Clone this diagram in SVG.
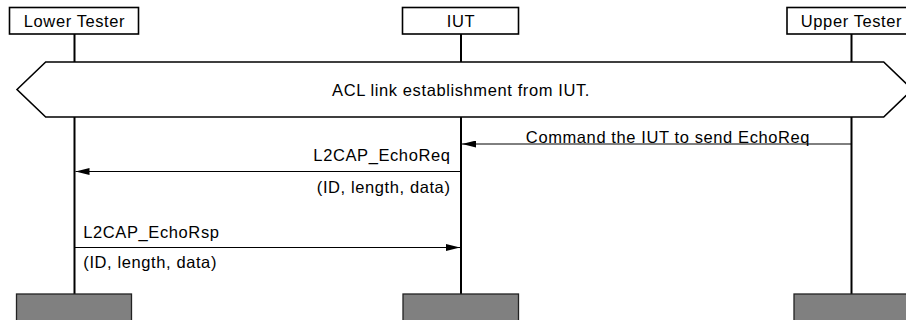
<svg xmlns="http://www.w3.org/2000/svg" width="906" height="320" viewBox="0 0 906 320">
<style>
text{font-family:"Liberation Sans",Arial,sans-serif;font-size:16.5px;letter-spacing:0.6px;fill:#000}
.hd{fill:#fff;stroke:#000;stroke-width:1.6}
.ft{fill:#808080;stroke:#222;stroke-width:1.3}
.life{stroke:#000;stroke-width:2}
.msg{stroke:#000;stroke-width:1;fill:none}
.c{text-anchor:middle}
.e{text-anchor:end}
</style>
<defs>
<marker id="ah" markerWidth="15" markerHeight="7" refX="14" refY="3.5" orient="auto" markerUnits="userSpaceOnUse">
<path d="M0,0 L14,3.5 L0,7 Z" fill="#000"/>
</marker>
</defs>
<g id="lifelines">
<line class="life" x1="74.5" y1="34" x2="74.5" y2="294"/>
<line class="life" x1="461" y1="34" x2="461" y2="294"/>
<line class="life" x1="851.5" y1="34" x2="851.5" y2="294"/>
</g>
<g id="lower-tester">
<rect class="hd" x="9.5" y="7.5" width="129" height="26.5"/>
<text class="c" x="74.5" y="26.5">Lower Tester</text>
<rect class="ft" x="16.5" y="294" width="115" height="30"/>
</g>
<g id="iut">
<rect class="hd" x="402.5" y="7.5" width="116" height="26.5"/>
<text class="c" x="461" y="26.5">IUT</text>
<rect class="ft" x="403" y="294" width="115.5" height="30"/>
</g>
<g id="upper-tester">
<rect class="hd" x="787" y="7.5" width="129" height="26.5"/>
<text class="c" x="851.5" y="26.5">Upper Tester</text>
<rect class="ft" x="794" y="294" width="115" height="30"/>
</g>
<g id="acl-link">
<polygon class="hd" points="17,89.5 45.7,62 883.7,62 912.5,89.5 883.7,117 45.7,117"/>
<text class="c" x="461" y="96">ACL link establishment from IUT.</text>
</g>
<g id="connectors">
<line class="msg" x1="851.5" y1="144" x2="462" y2="144" marker-end="url(#ah)"/>
<text class="c" x="668" y="143">Command the IUT to send EchoReq</text>
<line class="msg" x1="461" y1="171.5" x2="75.5" y2="171.5" marker-end="url(#ah)"/>
<text class="e" x="450.5" y="161">L2CAP_EchoReq</text>
<text class="e" x="450.5" y="193">(ID, length, data)</text>
<line class="msg" x1="74.5" y1="247.5" x2="460" y2="247.5" marker-end="url(#ah)"/>
<text x="83.3" y="238.3">L2CAP_EchoRsp</text>
<text x="83.3" y="268.3">(ID, length, data)</text>
</g>
</svg>
